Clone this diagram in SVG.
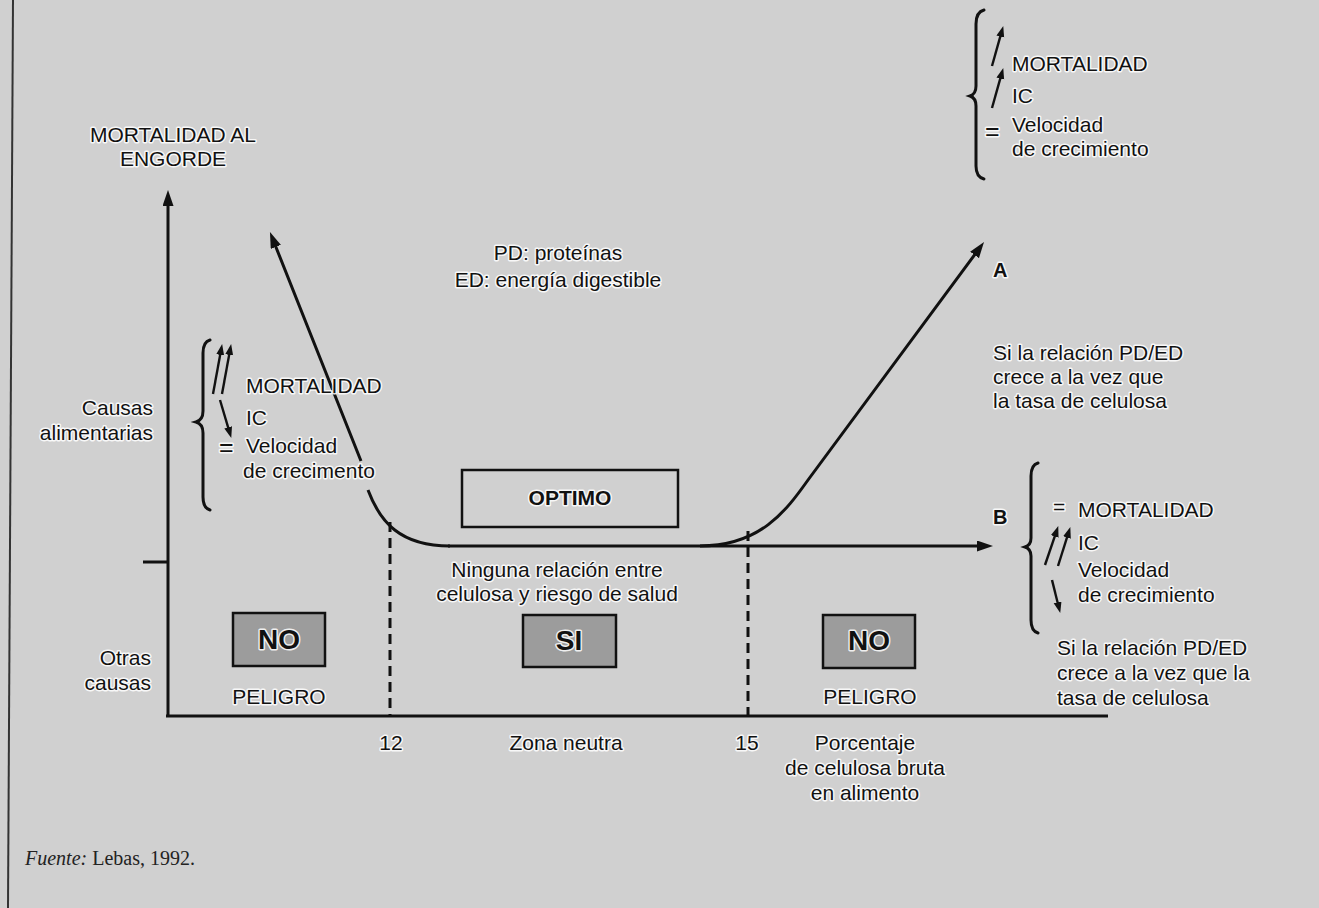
<svg xmlns="http://www.w3.org/2000/svg" width="1319" height="908" viewBox="0 0 1319 908">
<style>
.t{font-family:"Liberation Sans",Arial,sans-serif;font-size:21px;fill:#111;stroke:#fff;stroke-width:3;stroke-opacity:.85;stroke-linejoin:round;paint-order:stroke}
.b{font-weight:bold}
.m{text-anchor:middle}
.e{text-anchor:end}
.big{font-size:28px}
.ab{font-size:20px}
.eq{font-size:25px}
.ln{fill:none;stroke:#111;stroke-width:3}
.sm{fill:none;stroke:#111;stroke-width:2.4}
.br{fill:none;stroke:#111;stroke-width:3;stroke-linecap:round}
.dash{fill:none;stroke:#111;stroke-width:3;stroke-dasharray:10 6}
.box{fill:#9c9c9c;stroke:#111;stroke-width:2.5}
.obox{fill:none;stroke:#111;stroke-width:2.5}
.src{font-family:"Liberation Serif","Times New Roman",serif;font-size:20px;fill:#222}
</style>
<defs>
<marker id="big" markerUnits="userSpaceOnUse" markerWidth="18" markerHeight="12" refX="4" refY="5.5" orient="auto">
<path d="M0,0 L16,5.5 L0,11 z" fill="#111"/>
</marker>
<marker id="small" markerUnits="userSpaceOnUse" markerWidth="12" markerHeight="9" refX="3" refY="4" orient="auto">
<path d="M0,0 L11,4 L0,8 z" fill="#111"/>
</marker>
</defs>
<rect width="1319" height="908" fill="#d0d0d0"/>
<path d="M13 0 L8 908" stroke="#333" stroke-width="2" fill="none"/>

<g id="axes">
<path class="ln" d="M168 716 L168 202" marker-end="url(#big)"/>
<path class="ln" d="M166 716 L1108 716"/>
<path class="ln" d="M143 562 L168 562"/>
</g>

<g id="connectors">
<path class="ln" d="M450 546 C400 546 380 522 368 490 M361 461 L274.4 243.2" marker-end="url(#big)"/>
<path class="ln" d="M448 546 L981 546" marker-end="url(#big)"/>
<path class="ln" d="M700 546 C760 546 786 511 808 480 L976.9 251.7" marker-end="url(#big)"/>
<path class="dash" d="M390 522 L390 716"/>
<path class="dash" d="M748 531 L748 716"/>
</g>

<g id="y-label">
<text class="t m" x="173" y="142">MORTALIDAD AL</text>
<text class="t m" x="173" y="166">ENGORDE</text>
</g>
<g id="causas-alimentarias">
<text class="t e" x="153" y="415">Causas</text>
<text class="t e" x="153" y="440">alimentarias</text>
</g>
<g id="otras-causas">
<text class="t e" x="151" y="665">Otras</text>
<text class="t e" x="151" y="690">causas</text>
</g>

<g id="legend">
<text class="t m" x="558" y="260">PD: proteínas</text>
<text class="t m" x="558" y="287">ED: energía digestible</text>
</g>

<g id="left-effects">
<path class="br" d="M210 340 Q203 342 203 353 L203 411 Q203 420 196 422 Q203 424 203 433 L203 497 Q203 508 210 510"/>
<path class="sm" d="M213 394 L220.7 351.9" marker-end="url(#small)"/>
<path class="sm" d="M222 394 L229.7 351.9" marker-end="url(#small)"/>
<path class="sm" d="M220 400 L229 430.3" marker-end="url(#small)"/>
<text class="t eq" x="219" y="456">=</text>
<text class="t" x="246" y="393">MORTALIDAD</text>
<text class="t" x="246" y="425">IC</text>
<text class="t" x="246" y="453">Velocidad</text>
<text class="t" x="243" y="478">de crecimento</text>
</g>

<g id="top-right-effects">
<path class="br" d="M984 10 Q976 12 976 24 L976 86 Q976 94 970 96 Q976 98 976 106 L976 166 Q976 177 984 179"/>
<path class="sm" d="M992 66 L1001.1 33.7" marker-end="url(#small)"/>
<path class="sm" d="M992 108 L1001.1 75.7" marker-end="url(#small)"/>
<text class="t eq" x="985" y="140">=</text>
<text class="t" x="1012" y="71">MORTALIDAD</text>
<text class="t" x="1012" y="103">IC</text>
<text class="t" x="1012" y="132">Velocidad</text>
<text class="t" x="1012" y="156">de crecimiento</text>
</g>

<g id="label-A">
<text class="t b ab" x="993" y="277">A</text>
<text class="t" x="993" y="360">Si la relación PD/ED</text>
<text class="t" x="993" y="384">crece a la vez que</text>
<text class="t" x="993" y="408">la tasa de celulosa</text>
</g>

<g id="label-B">
<text class="t b ab" x="993" y="524">B</text>
<path class="br" d="M1038 463 Q1031 465 1031 476 L1031 538 Q1031 545 1025 547 Q1031 549 1031 556 L1031 620 Q1031 631 1038 633"/>
<path class="sm" d="M1045 565 L1055.7 533.6" marker-end="url(#small)"/>
<path class="sm" d="M1058 566 L1067.9 534.7" marker-end="url(#small)"/>
<path class="sm" d="M1052 580 L1058.3 605.2" marker-end="url(#small)"/>
<text class="t" x="1053" y="514">=</text>
<text class="t" x="1078" y="517">MORTALIDAD</text>
<text class="t" x="1078" y="550">IC</text>
<text class="t" x="1078" y="577">Velocidad</text>
<text class="t" x="1078" y="602">de crecimiento</text>
<text class="t" x="1057" y="655">Si la relación PD/ED</text>
<text class="t" x="1057" y="680">crece a la vez que la</text>
<text class="t" x="1057" y="705">tasa de celulosa</text>
</g>

<g id="optimo">
<rect class="obox" x="462" y="470" width="216" height="57"/>
<text class="t b m" x="570" y="505">OPTIMO</text>
</g>

<g id="neutral-note">
<text class="t m" x="557" y="577">Ninguna relación entre</text>
<text class="t m" x="557" y="601">celulosa y riesgo de salud</text>
</g>

<g id="no-left">
<rect class="box" x="233" y="613" width="92" height="53"/>
<text class="t b m big" x="279" y="649">NO</text>
<text class="t m" x="279" y="704">PELIGRO</text>
</g>

<g id="si">
<rect class="box" x="523" y="615" width="93" height="52"/>
<text class="t b m big" x="569" y="650">SI</text>
</g>

<g id="no-right">
<rect class="box" x="823" y="615" width="92" height="53"/>
<text class="t b m big" x="869" y="650">NO</text>
<text class="t m" x="870" y="704">PELIGRO</text>
</g>

<g id="x-labels">
<text class="t m" x="391" y="750">12</text>
<text class="t m" x="566" y="750">Zona neutra</text>
<text class="t m" x="747" y="750">15</text>
<text class="t m" x="865" y="750">Porcentaje</text>
<text class="t m" x="865" y="775">de celulosa bruta</text>
<text class="t m" x="865" y="800">en alimento</text>
</g>

<g id="source">
<text class="src" x="25" y="865"><tspan font-style="italic">Fuente:</tspan> Lebas, 1992.</text>
</g>
</svg>
